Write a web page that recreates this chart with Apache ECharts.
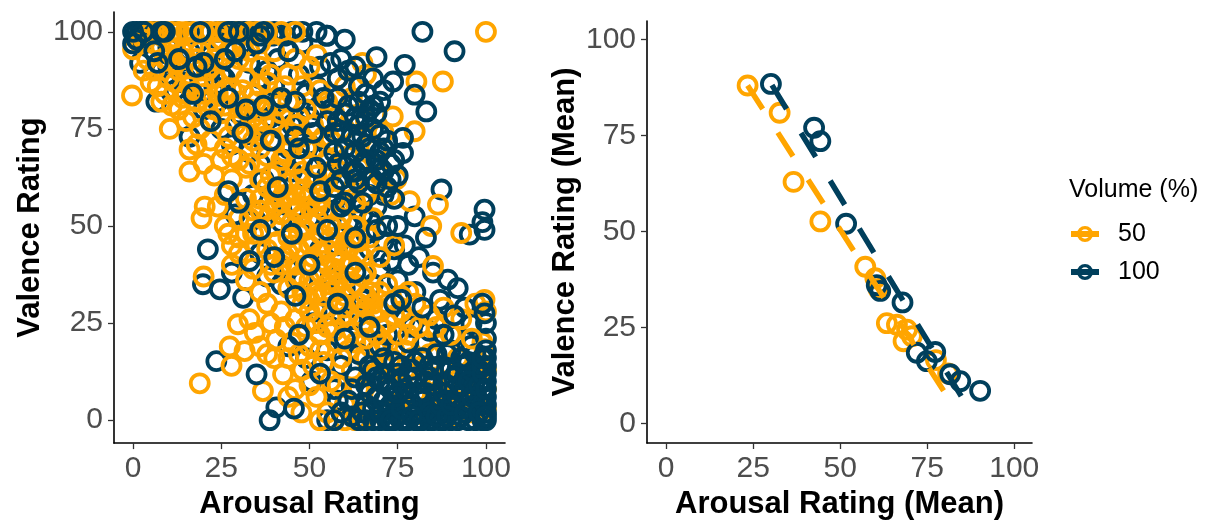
<!DOCTYPE html>
<html>
<head>
<meta charset="utf-8">
<title>Valence vs Arousal</title>
<script src="https://cdn.jsdelivr.net/npm/echarts@6/dist/echarts.min.js"></script>
<style>
  html, body { margin: 0; padding: 0; background: #fff; }
  #chart { width: 1215px; height: 525px; }
</style>
</head>
<body>
<div id="chart"></div>
<script>
// tick labels shared by every axis
const tickValues = [0, 25, 50, 75, 100];
const volumeLevels = ['50', '100'];
const volumeColors = ['#FFA500', '#003F5C'];

// left panel: single ratings [arousal, valence], volume 50 %
const ratings50 = [
  [5,100],[7,100],[9,100],[11,100],[13,100],[15,100],[17,100],[20,100],[22,100],[24,100],[26,100],[30,100],[33,100],[35,100],[38,100],[42,100],[46,100],[100,100],[8,99],[14,99],
  [0,95.5],[-0.3,83.6],[2,97],[4,93],[6,90],[8,96],[10,88],[12,92],[14,95],[16,89],[18,93],[20,87],[22,91],[24,96],[26,85],[28,90],[30,93],[32,88],[34,84],[36,91],[38,87],[40,95],[42,83],[44,89],[46,93],[48,86],[50,91],[52,94],[55,82],[60,86],[65,92],[66,89],[80.3,87.2],[87.8,87.2],[73.6,78.2],[79.8,74.4],
  [5,87],[9,84],[13,80],[17,78],[21,82],[25,79],[29,76],[33,80],[37,77],[41,81],[44,74],[47,78],[51,76],[54,73],[57,79],[60,75],[63,72],[66,77],[69,70],[71,74],[3,90],[7,86],[11,94],[15,84],[19,90],[23,88],[27,95],[31,85],[35,82],[39,89],[43,86],[49,80],[53,85],[58,88],[62,83],[11,81],[15,77],[19,75],[23,80],[27,73],[31,78],[35,75],
  [3,98],[6,97],[9,93],[11,98],[13,90],[15,93],[17,96],[19,95],[21,90],[23,93],[25,98],[28,97],[31,96],[33,95],[36,97],[8,82],[12,87],[14,83],[16,86],[18,82],[20,84],[22,77],[24,84],[26,81],[28,85],[30,82],[32,74],[34,78],[36,86],[38,80],[40,77],[42,79],[44,82],[46,76],[18,71],[22,72],[25,67],[28,68],[33,66],[37,73],
  [10.4,75],[16,69.7],[16,64],[20,66],[23,63],[26,70],[30,67],[34,72],[38,68],[41,64],[43,69],[46,66],[49,70],[52,63],[55,67],[58,62],[61,68],[64,65],[67,60],[70,63],[73,58],[74.6,62],[78.4,56.4],[86.4,55.5],[84.5,50],[93,48.2],[36,62],[40,58],[44,61],[48,64],[50,58],[54,60],[57,57],[60,61],[63,56],[66,58],[45,56],[48,59],[51,61],[53,57],[56,64],[47,62],[43,58],[39,63],
  [38,60],[40,55],[42,53],[44,58],[46,54],[48,50],[50,55],[52,52],[54,54],[56,47],[58,50],[60,45],[62,47],[64,43],[45,45],[47,48],[49,40],[51,46],[53,43],[55,40],[57,45],[59,41],[61,40],[63,35],[65,37],[67,33],[36,57],[38,52],[34,54],[32,48],[30,47],[26,58],[28,62],[32,65],[36,70],[40,72],[42,67],[45,70],[48,73],[52,70],[56,72],
  [20.3,55],[19.4,52],[24,55],[26,50],[28,45],[30,52],[32,57],[34,48],[36,54],[38,44],[40,50],[42,56],[44,47],[46,58],[48,53],[50,45],[52,55],[54,41],[56,50],[58,43],[60,48],[62,40],[64,46],[66,38],[68,52],[70,42],[72,35],[74,45],[85,39.7],[28,40],[30,43],[40,38],[46,40],[50,36],[58,35],[70,33],[20,37],[49,49],[51,42],[53,48],[55,44],[57,39],[59,52],[61,44],[63,50],[65,42],[67,47],[47,44],[45,51],[43,42],[41,46],[39,40],[35,45],[33,52],[27,48],[47,37],[53,38],[55,35],[61,37],
  [42,40],[44,43],[46,36],[48,33],[50,28],[52,33],[54,29],[56,36],[58,38],[60,32],[62,34],[64,27],[66,29],[68,30],[70,28],[72,30],[74,27],[53,22],[55,24],[57,23],[59,26],[61,27],[63,20],[65,25],[67,19],[69,22],[71,20],[73,16],[75,22],[77,18],[79,25],[81,24],[83,20],
  [32,36],[34,39],[36,33],[38,30],[42,28],[44,34],[48,30],[52,25],[54,32],[56,27],[60,29],[62,23],[64,30],[66,21],[68,27],[72,25],[74,18],[76,28],[76,32],[78,22],[80,30],[82,20],[84,27],[88,29],[99.6,31],[99.6,18.3],[29.7,24.7],[34.5,22.5],[40.6,20.8],[27.4,19],[31.6,17.8],[58,20],[50,19],[46,26],[50,31],[56,33],[66,32],[70,24],[78,33],[86,24],[90,22],[93,26],[96,21],[100,28],[97,30],
  [40,16],[43,24],[45,20],[47,17],[49,24],[51,14],[53,18],[50,9],[44,6],[38,17],[33,26],[36,19],[39,25],
  [18.9,9.5],[27.9,14],[36.8,7.5],[47.7,2],[52.9,0],[42.5,11.8],[44,16],[46,8],[48,13],[52,6],[54,15],[56,10],[57,0],[60,4],[62,13],[63,0],[64,8],[66,16],[67,3],[68,11],[70,6],[71,14],[72,0],[73,9],[75,4],[77,12],[78,2],[80,7],[82,14],[83,1],[85,6],[86,11],[88,4],[90,9],[91,1],[93,6],[95,12],[96,2],[98,15],[100,8],[100,3],[100,13],[99,20],[55,2],[60,0],[65,0],[58,9],[59,16],[61,18],[69,18],[74,12],[79,16],[84,17],[89,14],[92,16],[81,10],[87,8],[94,9],[97,5]
];

// left panel: single ratings [arousal, valence], volume 100 %
const ratings100 = [
  [0,100],[1,100],[2,100],[3,100],[4,100],[5,100],[8,100],[12,100],[16,100],[19,100],[21,100],[26,100],[27,100],[28,100],[29,100],[30,100],[31,100],[32,100],[37,100],[40,100],[45,100],[52,100],[55,99],[60,98],[82,100],[39.5,99],[54.8,99],
  [1,98],[3,100],[6,100],[9,100],[24,100],[34,100],[36,99],[43,99],[48,100],[0,97],
  [3,97],[2,92],[6,95],[8,90],[10,96],[13,93],[14,87],[15,88],[18,91],[22,94],[25,89],[29,95],[31,97],[33,92],[35,97],[38,90],[41,93],[44,95],[48,97],[53,91],[56,92],[58,88],[61,90],[64,86],[69,93.5],[77,91.5],[73.7,87.2],[79.8,83.8],[83.1,79.5],[91.1,95],
  [6.6,82],[12,85],[17,84],[20,80],[23,86],[27,83],[30,79],[34,84],[37,81],[40,86],[43,78],[46,82],[49,84],[52,80],[55,77],[58,83],[61,81],[63,78],[66,84],[67,80],[68,81],[69,79],[71,85],[70,82],[10,91],[19,86],[26,93],[36,88],[47,89],[59,93],[63,91],
  [52,86],[54,83],[56,80],[58,77],[60,79],[62,73],[64,76],[66,71],[68,75],[70,69],[72,72],[74,67],[73,62],[71,64],[69,67],[67,70],[65,66],[63,62],[61,58],[59,55],[67,52],[69,61],[64,82],[66,78],[68,88],[57,74],[55,63],[53,55],[47,70],[45,76],[50,78],[42,83],[39,78],[35,76],[32,80],[26,88],[22,90],[20,92],[24,82],[16,95],[7,92],[11,88],
  [76.5,72.7],[76.5,68.8],[69.9,73.5],[16,73],[22,77],[25,75],[28,71],[31,74],[33,69],[36,66],[39,72],[42,75],[44,70],[46,73],[48,67],[50,71],[52,65],[54,68],[56,63],[58,66],[60,70],[62,64],[64,61],[66,67],[67,58],[68,62],[70,65],[72,60],[74,57],[62,59],[57,60],[53,59],[49,62],[45,64],[41,60],[37,62],[34,58],[27,59],[43,67],[47,76],[51,74],[55,71],[59,74],[63,69],[65,73],[61,66],[57,69],[59,62],[63,64],[71,70],[73,66],[75,63],[65,56],[69,55],[71,58],
  [30,56],[29,53],[33,51],[36,49],[39,54],[42,51],[45,48],[47,55],[50,52],[55,49],[58,45],[61,51],[63,47],[65,53],[67,44],[69,49],[71,46],[73,41],[75,50],[79.8,52.5],[87.4,59.4],[99.6,54.2],[99.6,49],[95.4,47.8],[99,51],[21.2,44],[28,38],[33,41],[36,43],[38,37],[40,42],[44,39],[48,36],[50,40],[56,37],[60,34],[63,38],[68,35],[75,36],[78,40],[85,38],[89.2,36.2],[92,34],[53,44],[57,54],[60,56],[66,48],[70,39],[72,50],[77,45],[81,42],[83,47],[74,44],
  [19.8,35],[24.6,33.7],[31.2,31.5],[42,35],[46,32],[52,28],[54,33],[58,30],[62,26],[65,31],[67,24],[70,28],[72,22],[74,30],[77,26],[80,33],[82,29],[84,23],[95.9,24.7],[99.6,27.5],[91.1,21.7],[95.9,19.2],[99,30],[100,25],[44,19],[47,22],[51,25],[55,18],[60,21],[70,19],[78,20],[88,22],[86,26],[90,18],[93,16],[100,21],[97,17],[100,18],[56,24],[63,29],[76,31],[79,24],[87,31],[91,27],[94,29],
  [23.6,15.2],[35,11.8],[38.7,0],[40.6,3.3],[45.6,3],[50.5,10],[49,16],[53,12],[57,8],[59,14],[61,5],[63,11],[64,17],[65,2],[66,9],[67,14],[68,0],[69,6],[71,12],[72,3],[73,8],[74,15],[75,1],[76,10],[77,5],[79,13],[80,0],[81,7],[82,16],[83,3],[84,11],[85,0],[86,6],[87,14],[88,2],[89,9],[90,0],[91,4],[92,12],[93,1],[94,7],[95,0],[96,3],[97,10],[98,5],[99,0],[100,2],[100,6],[100,10],[100,14],[100,0],[99,8],[97,0],[95,5],[92,0],[88,0],[86,3],[84,0],[82,0],[78,0],[76,0],[74,0],[72,0],[70,0],[66,0],[64,0],[62,1],[59,2],[55,0],
  [98,13],[94,11],[90,13],[85,9],[80,11],[78,7],[73,4],[70,10],[96,8],[99,4],[93,3],[89,5],[87,0],[83,7],[81,2],[77,0],[91,8],[97,6],[100,12],[100,4],[95,15],[86,17],[76,14],[62,8],[58,5],[57,0],
  [66,4],[67,7],[68,3],[69,11],[70,2],[71,5],[72,9],[73,0],[74,6],[75,12],[76,3],[77,8],[78,11],[79,4],[80,15],[81,0],[82,5],[83,10],[84,2],[85,13],[86,1],[87,4],[88,7],[89,1],[90,4],[91,11],[92,6],[93,9],[94,2],[95,10],[96,6],[97,13],[98,2],[98,9],[99,12],[99,16],[100,8],[100,16],[100,1],[94,14],[89,17],[84,14],[75,7],[79,1],[71,16],[68,13]
];

// right panel: per-stimulus means [arousal, valence]
const means50 = [
  [23.4,88],[32.6,80.9],[36.6,62.9],[44.3,52.6],[57.2,40.8],[60.1,37.8],[61,35],[63.4,26.1],[66.3,25.7],[69.2,24.4],[68.2,21.4],[70.6,22.7],[77.5,16.5],[81,13]
];
const means100 = [
  [30.1,88.4],[42.5,77],[44.3,73.5],[51.7,52],[60.5,36],[61.5,34.5],[67.9,31.5],[72,18.4],[74.9,16.2],[77.3,18.6],[81.6,12.8],[84.5,11],[90.2,8.5]
];

// fitted lines, endpoints
const fit50 = [[23.4,88],[79.7,8.5]];
const fit100 = [[30.4,88.1],[88.8,1.1]];

// drawing order in the left panel: the rings overlap a lot, so the
// stacking decides which colour shows where
const orangeUnder = (p) => p[0] >= 60 && p[1] <= 20;
const blueOver = (p, i) => (p[0] >= 57 && p[1] >= 60) || (p[0] >= 63 && p[1] <= 12) || i % 3 === 0;

const FONT = '"Liberation Sans", Arial, sans-serif';
const legendIcon = 'path://M0,5 L28,5 L28,11 L0,11 Z M6,8 A8,8 0 1,1 22,8 A8,8 0 1,1 6,8 Z M9.3,8 A4.7,4.7 0 1,0 18.7,8 A4.7,4.7 0 1,0 9.3,8 Z';

const valueAxis = (name, gap, gridIndex, min, max) => ({
  type: 'value',
  gridIndex: gridIndex,
  min: min,
  max: max,
  name: name,
  nameLocation: 'middle',
  nameGap: gap,
  nameTextStyle: { fontFamily: FONT, fontSize: 31, fontWeight: 'bold', color: '#000' },
  axisLine: { show: true, onZero: false, lineStyle: { color: '#000', width: 1.6 } },
  axisTick: { show: true, length: 6, customValues: tickValues, lineStyle: { color: '#333', width: 1.3 } },
  axisLabel: { customValues: tickValues, fontFamily: FONT, fontSize: 30, color: '#4D4D4D', margin: 11 },
  splitLine: { show: false },
});

const ringStyle = (color) => ({
  color: 'rgba(0,0,0,0)',
  borderColor: color,
  borderWidth: 3.8,
  opacity: 1,
});

const ringSeries = (level, data, axis) => ({
  name: volumeLevels[level],
  type: 'scatter',
  xAxisIndex: axis,
  yAxisIndex: axis,
  symbol: 'circle',
  symbolSize: 18,
  data: data,
  itemStyle: ringStyle(volumeColors[level]),
});

const chart = echarts.init(document.getElementById('chart'));
const option = {
  animation: false,
  backgroundColor: '#fff',
  title: {
    text: 'Volume (%)',
    left: 1069,
    top: 178,
    padding: 0,
    textStyle: { fontFamily: FONT, fontSize: 25, fontWeight: 'normal', color: '#000' },
  },
  legend: {
    orient: 'vertical',
    left: 1071,
    top: 221,
    itemWidth: 28,
    itemHeight: 16,
    itemGap: 12,
    padding: 0,
    selectedMode: false,
    textStyle: { fontFamily: FONT, fontSize: 25, color: '#000', lineHeight: 26, padding: [0, 0, 0, 14] },
    data: volumeLevels.map((v, i) => ({
      name: v,
      icon: legendIcon,
      itemStyle: { color: volumeColors[i], borderWidth: 0 },
    })),
  },
  grid: [
    { left: 114, top: 12, width: 391, height: 432 },
    { left: 647, top: 21, width: 385, height: 425 },
  ],
  xAxis: [
    valueAxis('Arousal Rating', 45, 0, -5.4, 105.4),
    valueAxis('Arousal Rating (Mean)', 46, 1, -5.5, 105.1),
  ],
  yAxis: [
    valueAxis('Valence Rating', 68, 0, -5.9, 105.1),
    valueAxis('Valence Rating (Mean)', 66, 1, -5.1, 104.8),
  ],
  series: [
    ringSeries(0, ratings50.filter(orangeUnder), 0),
    ringSeries(1, ratings100.filter((p, i) => !blueOver(p, i)), 0),
    ringSeries(0, ratings50.filter((p) => !orangeUnder(p)), 0),
    ringSeries(1, ratings100.filter(blueOver), 0),
    ringSeries(0, means50, 1),
    ringSeries(1, means100, 1),
    {
      name: volumeLevels[0], type: 'line', xAxisIndex: 1, yAxisIndex: 1,
      data: fit50, showSymbol: false, symbol: 'none',
      lineStyle: { color: volumeColors[0], width: 5.5, type: [28, 28], cap: 'butt' },
    },
    {
      name: volumeLevels[1], type: 'line', xAxisIndex: 1, yAxisIndex: 1,
      data: fit100, showSymbol: false, symbol: 'none',
      lineStyle: { color: volumeColors[1], width: 5.5, type: [28, 28], cap: 'butt' },
    },
  ],
};
chart.setOption(option);
</script>
</body>
</html>
